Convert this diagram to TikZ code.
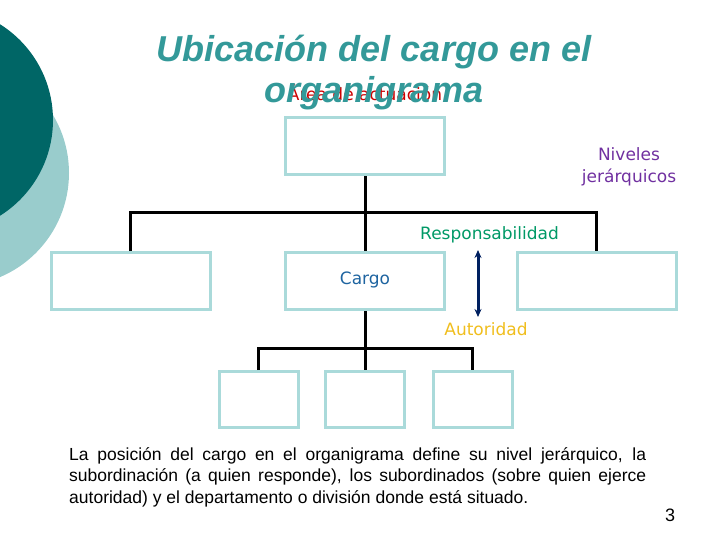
\documentclass[tikz,border=0pt]{standalone}
\usepackage{fontspec}
\setmainfont{Liberation Sans}
\newfontfamily\labelfont{DejaVu Sans}
\usetikzlibrary{arrows.meta}
\definecolor{tealdark}{RGB}{0,102,102}
\definecolor{teallight}{RGB}{153,204,204}
\definecolor{titlec}{RGB}{51,153,153}
\definecolor{boxc}{RGB}{170,218,218}
\definecolor{purplec}{RGB}{112,48,160}
\definecolor{greenc}{RGB}{0,153,102}
\definecolor{bluec}{RGB}{30,100,160}
\definecolor{goldc}{RGB}{240,190,30}
\definecolor{redc}{RGB}{204,0,0}
\definecolor{navyc}{RGB}{0,32,96}
\tikzset{
  orgbox/.style={draw=boxc, line width=3pt, minimum width=159pt, minimum height=57pt, inner sep=0pt},
  smallbox/.style={orgbox, minimum width=79pt, minimum height=56pt},
  conn/.style={draw=black, line width=3pt, line join=miter},
  lbl/.style={font=\labelfont\fontsize{17}{22}\selectfont, inner sep=0pt, align=center}
}
\begin{document}
\begin{tikzpicture}[x=1pt,y=-1pt]
\useasboundingbox (0,0) rectangle (720,540);
% decorative circles
\fill[teallight] (-44,173) circle (113);
\fill[tealdark] (-60,120) circle (113);
% red text behind title
\node[lbl, text=redc, anchor=base] (area) at (365,101) {Área de actuación};
% title
\node[font=\fontsize{36}{43}\bfseries\itshape\selectfont, text=titlec, anchor=base, inner sep=0pt] (t1) at (374,62) {Ubicación del cargo en el};
\node[font=\fontsize{36}{43}\bfseries\itshape\selectfont, text=titlec, anchor=base, inner sep=0pt] (t2) at (374,103) {organigrama};
% boxes
\node[orgbox] (top) at (365,146.5) {};
\node[orgbox] (l) at (130.5,281) {};
\node[orgbox] (m) at (365,281) {};
\node[orgbox] (r) at (596.5,281) {};
\node[smallbox] (s1) at (258.5,399.5) {};
\node[smallbox] (s2) at (365,399.5) {};
\node[smallbox] (s3) at (472.5,399.5) {};
% connectors
\coordinate (bus1) at (365,213);
\coordinate (bus2) at (365,348);
\draw[conn] (top.south) -- (m.north);
\draw[conn] (l.north) -- (l.north |- bus1) -- (r.north |- bus1) -- (r.north);
\draw[conn] (m.south) -- (s2.north);
\draw[conn] (s1.north) -- (s1.north |- bus2) -- (s3.north |- bus2) -- (s3.north);
% labels
\node[lbl, text=purplec] (niv) at (629,167) {Niveles\\jerárquicos};
\node[lbl, text=greenc] (resp) at (489.5,235) {Responsabilidad};
\node[lbl, text=bluec] (cargo) at (365,280) {Cargo};
\node[lbl, text=goldc] (aut) at (486,329) {Autoridad};
\coordinate (a1) at (478,250);
\coordinate (a2) at (478,317);
\draw[navyc, line width=3pt, {Stealth[length=8pt,width=7pt]}-{Stealth[length=8pt,width=7pt]}] (a1) -- (a2);
% paragraph
\node[anchor=north west, inner sep=0pt, text width=577pt, align=justify, font=\fontsize{17.5}{21.5}\selectfont] (para) at (69,447)
{La posición del cargo en el organigrama define su nivel jerárquico, la\linebreak subordinación (a quien responde), los subordinados (sobre quien ejerce\linebreak autoridad) y el departamento o división donde está situado.};
\node[font=\fontsize{18}{21.6}\selectfont, inner sep=0pt] (num) at (670,515) {3};
\end{tikzpicture}
\end{document}
